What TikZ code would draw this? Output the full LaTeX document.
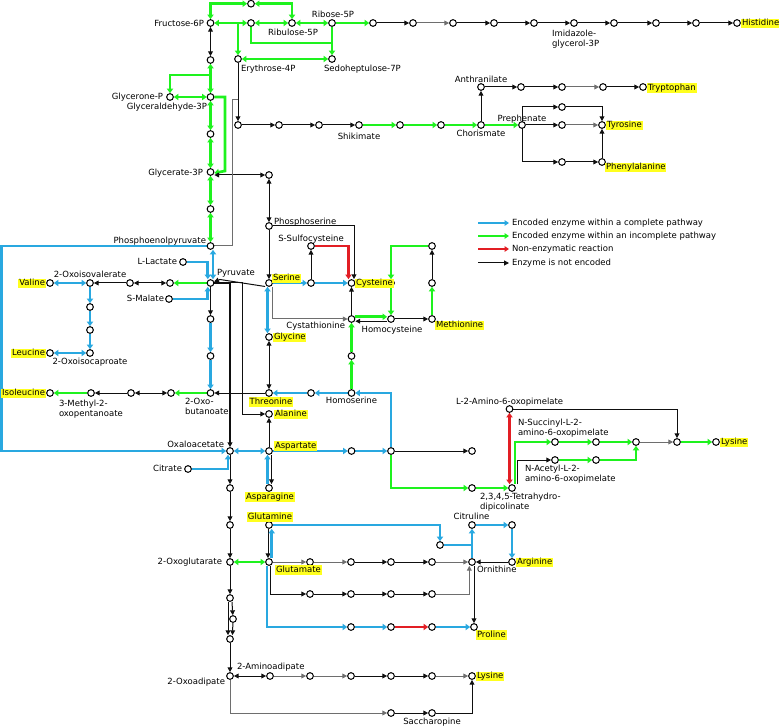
\documentclass[tikz,border=0pt]{standalone}
\usepackage{fontspec}
\setmainfont{DejaVu Sans}
\usetikzlibrary{arrows.meta}
\definecolor{cB}{RGB}{41,168,224}
\definecolor{cG}{RGB}{30,242,30}
\definecolor{cR}{RGB}{226,30,36}
\definecolor{cK}{RGB}{15,15,15}
\definecolor{cK2}{RGB}{110,110,110}
\definecolor{hl}{RGB}{255,255,30}
\pgfdeclarelayer{bg}
\pgfsetlayers{bg,main}
\newcommand\lblfont{\fontsize{8.5}{10}\selectfont}
\begin{document}
\begin{tikzpicture}[x=1pt,y=-1pt,
  mt/.style={circle,draw=black,fill=white,line width=1pt,inner sep=0pt,minimum size=6.7pt},
  lab/.style={inner sep=0.8pt,font=\lblfont,text height=6.3pt,text depth=1.9pt},
  hlab/.style={lab,fill=hl},
  lab2/.style={inner sep=0.8pt,font=\lblfont,align=left},
  kl/.style={draw=cK,line width=1pt},
  kf/.style={kl,-{Triangle[length=4.8pt,width=4.8pt]}},
  kd/.style={kl,{Triangle[length=4.8pt,width=4.8pt]}-{Triangle[length=4.8pt,width=4.8pt]}},
  bl/.style={draw=cB,line width=2.7pt},
  bf/.style={bl,-{Triangle[length=4.6pt,width=6.3pt]}},
  bd/.style={bl,{Triangle[length=4.6pt,width=6.3pt]}-{Triangle[length=4.6pt,width=6.3pt]}},
  gl/.style={draw=cG,line width=2.7pt},
  gf/.style={gl,-{Triangle[length=4.6pt,width=6.3pt]}},
  gd/.style={gl,{Triangle[length=4.6pt,width=6.3pt]}-{Triangle[length=4.6pt,width=6.3pt]}},
  rl/.style={draw=cR,line width=2.7pt},
  rf/.style={rl,-{Triangle[length=4.6pt,width=6.3pt]}},
  rd/.style={rl,{Triangle[length=4.6pt,width=6.3pt]}-{Triangle[length=4.6pt,width=6.3pt]}},
]
\useasboundingbox (0,0) rectangle (779,727);
% ---------------- metabolite circles ----------------
\node[mt] (f6p) at (210.5,23) {};
\node[mt] (t1) at (251,3.7) {};
\node[mt] (xu5p) at (251,23) {};
\node[mt] (ru5p) at (292,23) {};
\node[mt] (r5p) at (332,23) {};
\node[mt] (s7p) at (332,59) {};
\node[mt] (e4p) at (238,59) {};
\node[mt] (fbp) at (210.5,60) {};
\node[mt] (dhap) at (170,97) {};
\node[mt] (g3p) at (210.5,97) {};
\node[mt] (bpg) at (210.5,134) {};
\node[mt] (g3pa) at (210.5,172) {};
\node[mt] (pg2) at (210.5,209) {};
\node[mt] (pep) at (210.5,246) {};
\node[mt] (dahp) at (238,125) {};
\node[mt] (sk1) at (279,125) {};
\node[mt] (sk2) at (319,125) {};
\node[mt] (shik) at (359,125) {};
\node[mt] (sk4) at (400,125) {};
\node[mt] (sk5) at (441,125) {};
\node[mt] (chor) at (481,125) {};
\node[mt] (anth) at (481,87) {};
\node[mt] (tr1) at (521,87) {};
\node[mt] (tr2) at (562,87) {};
\node[mt] (tr3) at (603,87) {};
\node[mt] (trp) at (643,87) {};
\node[mt] (preph) at (522,125) {};
\node[mt] (ty1) at (562,107) {};
\node[mt] (ty2) at (562,125) {};
\node[mt] (tyr) at (602,125) {};
\node[mt] (ph1) at (562,162) {};
\node[mt] (phe) at (602,162) {};
\node[mt] (h1) at (373,23) {};
\node[mt] (h2) at (413,23) {};
\node[mt] (h3) at (453,23) {};
\node[mt] (h4) at (494,23) {};
\node[mt] (h5) at (534,23) {};
\node[mt] (igp) at (574,23) {};
\node[mt] (h7) at (614,23) {};
\node[mt] (h8) at (656,23) {};
\node[mt] (h9) at (696,23) {};
\node[mt] (his) at (737,23) {};
\node[mt] (php) at (269,175) {};
\node[mt] (pser) at (269,226) {};
\node[mt] (ssc) at (311,246) {};
\node[mt] (ser) at (269,283) {};
\node[mt] (se1) at (311,283) {};
\node[mt] (cys) at (351.5,283) {};
\node[mt] (m1) at (391,283) {};
\node[mt] (m2) at (432,246) {};
\node[mt] (m3) at (432,283) {};
\node[mt] (cysta) at (351.5,319) {};
\node[mt] (hcys) at (391,319) {};
\node[mt] (met) at (432,319) {};
\node[mt] (gly) at (269,337) {};
\node[mt] (hs1) at (351.5,356) {};
\node[mt] (thr) at (269,393) {};
\node[mt] (th1) at (311,393) {};
\node[mt] (hser) at (351.5,393) {};
\node[mt] (ala) at (269,414) {};
\node[mt] (asp) at (269,451) {};
\node[mt] (as1) at (351.5,451) {};
\node[mt] (as2) at (391,451) {};
\node[mt] (as3) at (472,451) {};
\node[mt] (asn) at (269,488) {};
\node[mt] (dp1) at (472,488) {};
\node[mt] (thdp) at (512,488) {};
\node[mt] (aop) at (509.5,409) {};
\node[mt] (ns1) at (555,442) {};
\node[mt] (ns2) at (596,442) {};
\node[mt] (ns3) at (636,442) {};
\node[mt] (dap) at (677,442) {};
\node[mt] (lysA) at (716,442) {};
\node[mt] (na1) at (555,460) {};
\node[mt] (na2) at (596,460) {};
\node[mt] (llac) at (183,262) {};
\node[mt] (pyr) at (210.5,283) {};
\node[mt] (smal) at (169,299) {};
\node[mt] (v1) at (170,283) {};
\node[mt] (v2) at (130,283) {};
\node[mt] (oiv) at (90,283) {};
\node[mt] (val) at (50,283) {};
\node[mt] (l1) at (90,307) {};
\node[mt] (l2) at (90,330) {};
\node[mt] (oic) at (90,353) {};
\node[mt] (leu) at (50,353) {};
\node[mt] (i1) at (210.5,319) {};
\node[mt] (i2) at (210.5,356) {};
\node[mt] (ob) at (210.5,393) {};
\node[mt] (i3) at (171,393) {};
\node[mt] (i4) at (131,393) {};
\node[mt] (mop) at (91,393) {};
\node[mt] (ile) at (50,393) {};
\node[mt] (oaa) at (230,451) {};
\node[mt] (cit) at (188,469) {};
\node[mt] (k1) at (230,488) {};
\node[mt] (k2) at (230,525) {};
\node[mt] (og) at (230,562) {};
\node[mt] (gln) at (269,525) {};
\node[mt] (glu) at (269,562) {};
\node[mt] (cp) at (440,545) {};
\node[mt] (citr) at (472,525) {};
\node[mt] (ar1) at (512,525) {};
\node[mt] (arg) at (512,562) {};
\node[mt] (orn) at (472,562) {};
\node[mt] (gl1) at (310,562) {};
\node[mt] (gl2) at (351,562) {};
\node[mt] (gl3) at (391,562) {};
\node[mt] (gl4) at (432,562) {};
\node[mt] (gm1) at (310,594) {};
\node[mt] (gm2) at (351,594) {};
\node[mt] (gm3) at (391,594) {};
\node[mt] (gm4) at (432,594) {};
\node[mt] (pr1) at (351,627) {};
\node[mt] (pr2) at (391,627) {};
\node[mt] (pr3) at (432,627) {};
\node[mt] (pro) at (474,627) {};
\node[mt] (a1) at (230,598) {};
\node[mt] (a2) at (233,619) {};
\node[mt] (a3) at (230,639) {};
\node[mt] (oad) at (230,676) {};
\node[mt] (aad) at (270,676) {};
\node[mt] (ly1) at (310,676) {};
\node[mt] (ly2) at (351,676) {};
\node[mt] (ly3) at (391,676) {};
\node[mt] (ly4) at (432,676) {};
\node[mt] (lysB) at (472,676) {};
\node[mt] (sa1) at (391,713) {};
\node[mt] (sacc) at (432,713) {};
% ---------------- labels ----------------
\node[lab,anchor=east] (tf6p) at (205,24) {Fructose-6P};
\node[lab] (tru5p) at (293,33) {Ribulose-5P};
\node[lab] (tr5p) at (333,15) {Ribose-5P};
\node[lab,anchor=west] (te4p) at (240,69) {Erythrose-4P};
\node[lab,anchor=west] (ts7p) at (323,69) {Sedoheptulose-7P};
\node[lab,anchor=east] (tdhap) at (164,97.5) {Glycerone-P};
\node[lab,anchor=east] (tg3p) at (208,107) {Glyceraldehyde-3P};
\node[lab,anchor=east] (tg3pa) at (204,173) {Glycerate-3P};
\node[lab,anchor=east] (tpep) at (207,241) {Phosphoenolpyruvate};
\node[lab2,anchor=north west] (tigp) at (551,29) {Imidazole-\\glycerol-3P};
\node[hlab,anchor=west] (this) at (741,23.5) {Histidine};
\node[lab] (tanth) at (481,80) {Anthranilate};
\node[hlab,anchor=west] (ttrp) at (647,88) {Tryptophan};
\node[lab] (tshik) at (359,137) {Shikimate};
\node[lab] (tchor) at (481,134.5) {Chorismate};
\node[lab] (tpreph) at (522,119) {Prephenate};
\node[hlab,anchor=west] (ttyr) at (606,125.5) {Tyrosine};
\node[hlab,anchor=west] (tphe) at (605,167.5) {Phenylalanine};
\node[lab,anchor=west] (tpser) at (273,222) {Phosphoserine};
\node[lab] (tssc) at (311,239) {S-Sulfocysteine};
\node[hlab,anchor=west] (tser) at (272,278.5) {Serine};
\node[hlab,anchor=west] (tcys) at (355,283.5) {Cysteine};
\node[lab,anchor=east] (tcysta) at (346,326) {Cystathionine};
\node[lab] (thcys) at (392,330) {Homocysteine};
\node[hlab,anchor=west] (tmet) at (435,325.5) {Methionine};
\node[hlab,anchor=west] (tgly) at (273,337.5) {Glycine};
\node[lab,anchor=east] (tllac) at (178,262.5) {L-Lactate};
\node[lab,anchor=west] (tpyr) at (216,273.5) {Pyruvate};
\node[lab,anchor=east] (tsmal) at (165,299.5) {S-Malate};
\node[lab] (toiv) at (90,275) {2-Oxoisovalerate};
\node[hlab,anchor=east] (tval) at (46,283.5) {Valine};
\node[lab] (toic) at (90,362) {2-Oxoisocaproate};
\node[hlab,anchor=east] (tleu) at (46,353.5) {Leucine};
\node[hlab,anchor=east] (tile) at (46,393.5) {Isoleucine};
\node[lab2,anchor=north west] (tmop) at (58,399) {3-Methyl-2-\\oxopentanoate};
\node[lab2,anchor=north west] (tob) at (184,397) {2-Oxo-\\butanoate};
\node[hlab] (tthr) at (271,402) {Threonine};
\node[lab] (thser) at (351.5,401) {Homoserine};
\node[hlab,anchor=west] (tala) at (274,414.5) {Alanine};
\node[hlab,anchor=west] (tasp) at (274,446) {Aspartate};
\node[hlab] (tasn) at (270,497) {Asparagine};
\node[lab,anchor=east] (toaa) at (225,445) {Oxaloacetate};
\node[lab,anchor=east] (tcit) at (183,469.5) {Citrate};
\node[lab,anchor=west] (taop) at (455,402) {L-2-Amino-6-oxopimelate};
\node[lab2,anchor=north west] (tns) at (517,418) {N-Succinyl-L-2-\\amino-6-oxopimelate};
\node[lab2,anchor=north west] (tna) at (524,464) {N-Acetyl-L-2-\\amino-6-oxopimelate};
\node[lab2,anchor=north west] (tthdp) at (479,492) {2,3,4,5-Tetrahydro-\\dipicolinate};
\node[hlab,anchor=west] (tlysA) at (720,442.5) {Lysine};
\node[hlab] (tgln) at (270,517) {Glutamine};
\node[hlab,anchor=west] (tglu) at (275,570) {Glutamate};
\node[lab] (tcitr) at (471.5,517.5) {Citruline};
\node[hlab,anchor=west] (targ) at (516,562.5) {Arginine};
\node[lab,anchor=west] (torn) at (476,570.5) {Ornithine};
\node[hlab,anchor=west] (tpro) at (476,635) {Proline};
\node[lab,anchor=east] (tog) at (223,562.5) {2-Oxoglutarate};
\node[lab,anchor=east] (toad) at (226,682) {2-Oxoadipate};
\node[lab,anchor=west] (taad) at (236,667) {2-Aminoadipate};
\node[hlab,anchor=west] (tlysB) at (476,676.5) {Lysine};
\node[lab] (tsacc) at (432,722.5) {Saccharopine};
% legend
\coordinate (lga1) at (478,223); \coordinate (lgb1) at (509,223);
\coordinate (lga2) at (478,236); \coordinate (lgb2) at (509,236);
\coordinate (lga3) at (478,249); \coordinate (lgb3) at (509,249);
\coordinate (lga4) at (478,263); \coordinate (lgb4) at (509,263);
\node[lab,anchor=west] (lgt1) at (511,223.5) {Encoded enzyme within a complete pathway};
\node[lab,anchor=west] (lgt2) at (511,236.5) {Encoded enzyme within an incomplete pathway};
\node[lab,anchor=west] (lgt3) at (511,249.5) {Non-enzymatic reaction};
\node[lab,anchor=west] (lgt4) at (511,263.5) {Enzyme is not encoded};
% junction coordinates
\coordinate (j1) at (238,23);
\coordinate (j2) at (332,43);
\coordinate (j3) at (210.5,75);
\coordinate (j4) at (238,100);
\coordinate (j5) at (522,107);
\coordinate (j6) at (522,162);
% ---------------- connectors ----------------
\begin{pgfonlayer}{bg}
\draw[bl,line width=2pt,-{Triangle[length=4.5pt,width=5.5pt]}] (lga1) -- (lgb1);
\draw[gl,line width=2pt,-{Triangle[length=4.5pt,width=5.5pt]}] (lga2) -- (lgb2);
\draw[rl,line width=2pt,-{Triangle[length=4.5pt,width=5.5pt]}] (lga3) -- (lgb3);
\draw[kf] (lga4) -- (lgb4);
% pentose phosphate
\draw[gd] (f6p) |- (t1);
\draw[gd] (t1) -| (ru5p);
\draw[gd] (f6p) -- (xu5p);
\draw[gf] (j1) -- (e4p);
\draw[gd] (xu5p) -- (ru5p);
\draw[gd] (ru5p) -- (r5p);
\draw[gf] (r5p) -- (h1);
\draw[gl] (xu5p) |- (j2);
\draw[gf] (r5p) -- (s7p);
\draw[gd] (e4p) -- (s7p);
% glycolysis
\draw[kd] (f6p) -- (fbp);
\draw[gd] (fbp) -- (g3p);
\draw[gf] (j3) -| (dhap);
\draw[gd] (dhap) -- (g3p);
\draw[gd] (g3p) -- (bpg);
\draw[gd] (bpg) -- (g3pa);
\draw[gf] (g3p) -- (225,97) -- (225,171) -- ([yshift=-1]g3pa.east);
\draw[gd] (g3pa) -- (pg2);
\draw[gd] (pg2) -- (pep);
\draw[kd] (g3pa.east |- php) -- (php);
% shikimate / aromatic
\draw[kf] (e4p) -- (dahp);
\draw[kl,draw=cK2] (pep) -| (232,100) -- (j4);
\draw[kf] (dahp) -- (sk1);
\draw[kf] (sk1) -- (sk2);
\draw[kf] (sk2) -- (shik);
\draw[gf] (shik) -- (sk4);
\draw[gf] (sk4) -- (sk5);
\draw[gf] (sk5) -- (chor);
\draw[kf] (chor) -- (anth);
\draw[kf] (anth) -- (tr1);
\draw[kf] (tr1) -- (tr2);
\draw[kf,draw=cK2] (tr2) -- (tr3);
\draw[kf] (tr3) -- (trp);
\draw[gf] (chor) -- (preph);
\draw[kf] (preph) -- (ty2);
\draw[kf,draw=cK2] (ty2) -- (tyr);
\draw[kl] (j5) -- (j6);
\draw[kf] (j5) -- (ty1);
\draw[kf] (ty1) -| (tyr);
\draw[kf] (j6) -- (ph1);
\draw[kf] (ph1) -- (phe);
\draw[kf] (phe) -- (tyr);
% histidine
\draw[kf] (h1) -- (h2);
\draw[kf,draw=cK2] (h2) -- (h3);
\draw[kf] (h3) -- (h4);
\draw[kf] (h4) -- (h5);
\draw[kf] (h5) -- (igp);
\draw[kf] (igp) -- (h7);
\draw[kf] (h7) -- (h8);
\draw[kf] (h8) -- (h9);
\draw[kf] (h9) -- (his);
% serine
\draw[kd] (php) -- (pser);
\draw[kf] (pser) -- (ser);
\draw[bd] ([xshift=2.5]pep.south) -- ([xshift=2.5]pyr.north);
\draw[bf] (pep) -- (1.8,246) -- (1.8,451) -- (oaa);
\draw[bf] (llac) -| ([xshift=-2.7]pyr.north);
\draw[bf] (smal) -| ([xshift=-2.7]pyr.south);
% branched chain
\draw[gf] (pyr) -- (v1);
\draw[kd] (v1) -- (v2);
\draw[kf] (v2) -- (oiv);
\draw[bd] (oiv) -- (val);
\draw[bf] (oiv) -- (l1);
\draw[bf] (l1) -- (l2);
\draw[bf] (l2) -- (oic);
\draw[bd] (oic) -- (leu);
\draw[kf] (pyr) -- (i1);
\draw[bf] (i1) -- (i2);
\draw[bf] (i2) -- (ob);
\draw[gf] (ob) -- (i3);
\draw[kd] (i3) -- (i4);
\draw[kf] (i4) -- (mop);
\draw[gf] (mop) -- (ile);
\draw[kf] (thr) -- (ob);
% pyruvate links
\draw[kf] ([yshift=-3.5]ser.west) -- (220,279.5) -- (pyr);
\draw[kf,line width=1.3pt] (pyr) -- (230,283) -- (oaa);
\draw[kf] (pyr) -- (242,283) -- (242,414) -- (ala);
% cysteine / methionine
\draw[bf] (ser) -- (se1);
\draw[bf] (se1) -- (cys);
\draw[kf] (se1) -- (ssc);
\draw[rf] (ssc) -| ([xshift=-3]cys.north);
\draw[kf] (pser) -| ([xshift=2.5]cys.north);
\draw[kf] (cysta) -- (cys);
\draw[gf] (m2) -| (m1);
\draw[gf] (m1) -- (hcys);
\draw[kf] (hcys) -- (met);
\draw[gf] (met) -- (m3);
\draw[kf] (m3) -- (m2);
\draw[kf] ([yshift=-2.2]hcys.west) -- ([yshift=-2.2]cysta.east);
\draw[gf] ([yshift=2.2]cysta.east) -- ([yshift=2.2]hcys.west);
\draw[kf,draw=cK2] ([xshift=3]ser.south) |- (cysta);
\draw[bd] ([xshift=-1.5]ser.south) -- ([xshift=-1.5]gly.north);
\draw[kd] (gly) -- (thr);
\draw[gf] (hser) -- (hs1);
\draw[gf] (hs1) -- (cysta);
\draw[bf] (hser) -- (th1);
\draw[bf] (th1) -- (thr);
% aspartate family
\draw[bd] (oaa) -- (asp);
\draw[bf] (asp) -- (as1);
\draw[bf] (as1) -- (as2);
\draw[kf] (as2) -- (as3);
\draw[bf] (as2) |- (hser);
\draw[gf] (as2) |- (dp1);
\draw[gf] (dp1) -- (thdp);
\draw[kf] (asp) -- (ala);
\draw[bf] ([xshift=-1.5]asn.north) -- ([xshift=-1.5]asp.south);
\draw[kf] ([xshift=2.5]asp.south) -- ([xshift=2.5]asn.north);
% lysine (DAP)
\draw[rd] ([xshift=-2.5]thdp.north) -- (aop);
\draw[gf] ([xshift=3]thdp.north) |- (ns1);
\draw[kf] ([xshift=5.3]thdp.north) |- (na1);
\draw[gf] (ns1) -- (ns2);
\draw[gf] (ns2) -- (ns3);
\draw[kf,draw=cK2] (ns3) -- (dap);
\draw[gf] (dap) -- (lysA);
\draw[gf] (na1) -- (na2);
\draw[gf] (na2) -| (ns3);
\draw[kf] (aop) -| (dap);
% TCA / glutamate
\draw[bf] (cit) -| ([xshift=-2]oaa.south);
\draw[kf] (oaa) -- (k1);
\draw[kf] (k1) -- (k2);
\draw[kf] (k2) -- (og);
\draw[gd] (glu) -- (og);
\draw[kf] ([xshift=-1]gln.south) -- ([xshift=-1]glu.north);
\draw[bf] ([xshift=2.7]glu.north) -- ([xshift=2.7]gln.south);
\draw[bf] (gln) -| (cp);
\draw[bf] (orn) -- (citr);
\draw[bl] (cp) -- (citr |- cp);
\draw[bf] (citr) -- (ar1);
\draw[bf] (ar1) -- (arg);
\draw[kf] (arg) -- (orn);
\draw[kf,draw=cK2] (glu) -- (gl1);
\draw[kf,draw=cK2] (gl1) -- (gl2);
\draw[kf] (gl2) -- (gl3);
\draw[kf] (gl3) -- (gl4);
\draw[kf,draw=cK2] (gl4) -- (orn);
\draw[kf] ([xshift=1.5]glu.south) |- (gm1);
\draw[kf] (gm1) -- (gm2);
\draw[kf] (gm2) -- (gm3);
\draw[kf] (gm3) -- (gm4);
\draw[kf,draw=cK2] (gm4) -| ([xshift=-2.7]orn.south);
\draw[bf] ([xshift=-2]glu.south) |- (pr1);
\draw[bf] (pr1) -- (pr2);
\draw[rf] (pr2) -- (pr3);
\draw[bf] (pr3) -- (pro);
\draw[kf] ([xshift=2]orn.south) -- (pro);
% lysine (AAA)
\draw[kf] (og) -- (a1);
\draw[kf] ([xshift=-2]a1.south) -- ([xshift=-2]a3.north);
\draw[kf] ([xshift=2]a1.south) -- (a2);
\draw[kf] (a2) -- ([xshift=2.5]a3.north);
\draw[kf] (a3) -- (oad);
\draw[kd] (oad) -- (aad);
\draw[kf,draw=cK2] (aad) -- (ly1);
\draw[kf,draw=cK2] (ly1) -- (ly2);
\draw[kf] (ly2) -- (ly3);
\draw[kf] (ly3) -- (ly4);
\draw[kf,draw=cK2] (ly4) -- (lysB);
\draw[kf,draw=cK2] (oad) |- (sa1);
\draw[kf] (sa1) -- (sacc);
\draw[kf] (sacc) -| (lysB);
\end{pgfonlayer}
\end{tikzpicture}
\end{document}
